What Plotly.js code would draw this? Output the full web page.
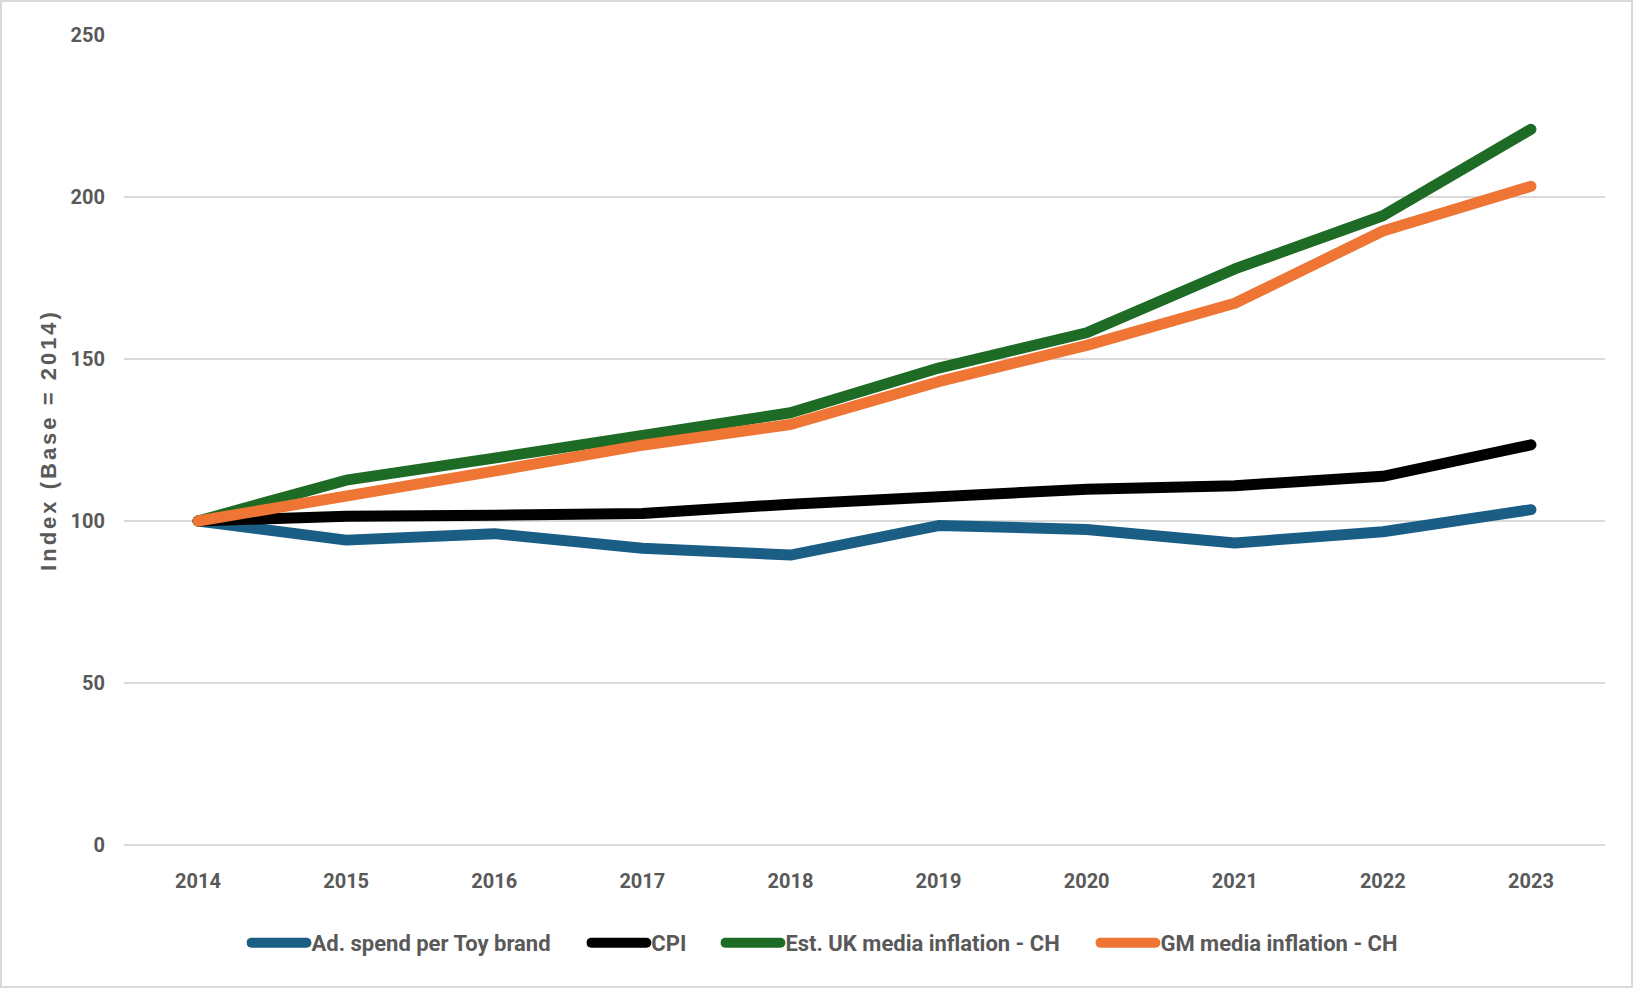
<!DOCTYPE html>
<html>
<head>
<meta charset="utf-8">
<script src="https://cdn.plot.ly/plotly-3.0.1.min.js"></script>
<style>
  html, body { margin: 0; padding: 0; background: #fff; }
  #frame { width: 1629px; height: 984px; border: 2px solid #d9d9d9; }
  #chart { width: 1629px; height: 984px; }
  #chart .ytitle { letter-spacing: 3px; }
  #chart .scatterlayer .js-line { stroke-linecap: round; stroke-linejoin: round; }
  #chart .legendlines path { stroke-linecap: round; }
</style>
</head>
<body>
<div id="frame"><div id="chart"></div></div>
<script>
const years = ["2014","2015","2016","2017","2018","2019","2020","2021","2022","2023"];
const adSpend = [100, 94.1, 96.1, 91.6, 89.5, 98.6, 97.4, 93.2, 96.7, 103.5];
const cpi = [100, 101.5, 101.8, 102.3, 105.2, 107.8, 109.8, 110.9, 113.8, 123.5];
const ukMedia = [100, 112.6, 119.4, 126.8, 133.4, 147.2, 158.1, 177.8, 194.2, 220.9];
const gmMedia = [100, 107.5, 115.4, 123.4, 129.8, 143.0, 154.2, 167.2, 189.5, 203.3];
const seriesNames = ["Ad. spend per Toy brand", "CPI", "Est. UK media inflation - CH", "GM media inflation - CH"];
const yTicks = [0, 50, 100, 150, 200, 250];

const colors = ["#1b5e85", "#000000", "#1d6b24", "#ee7534"];
const allSeries = [adSpend, cpi, ukMedia, gmMedia];
const legendIds = ["legend", "legend2", "legend3", "legend4"];
const legendX = [0.0827, 0.3122, 0.4027, 0.6559];

const traces = allSeries.map((vals, i) => ({
  type: "scatter",
  mode: "lines",
  x: years,
  y: vals,
  name: seriesNames[i],
  legend: legendIds[i],
  line: { color: colors[i], width: 11, shape: "linear" },
  hoverinfo: "x+y+name"
}));

const fontFam = "Roboto, 'Liberation Sans', Arial, sans-serif";
const legendFont = { family: fontFam, size: 22, color: "#595959", weight: "bold" };

const layout = {
  width: 1629,
  height: 984,
  margin: { l: 122, r: 26, t: 33, b: 141 },
  paper_bgcolor: "#ffffff",
  plot_bgcolor: "#ffffff",
  showlegend: true,
  font: { family: fontFam, color: "#595959", size: 20 },
  xaxis: {
    type: "category",
    range: [-0.5, 9.5],
    showgrid: false,
    zeroline: false,
    showline: false,
    ticks: "",
    ticklabelstandoff: 22,
    tickfont: { family: fontFam, size: 20, color: "#595959", weight: "bold" }
  },
  yaxis: {
    range: [0, 250],
    tickvals: yTicks,
    ticktext: yTicks.map(String),
    showgrid: true,
    gridcolor: "#d9d9d9",
    gridwidth: 1.5,
    zeroline: true,
    zerolinecolor: "#d9d9d9",
    zerolinewidth: 1.5,
    showline: false,
    ticks: "",
    ticklabelstandoff: 18,
    tickfont: { family: fontFam, size: 20, color: "#595959", weight: "bold" },
    title: {
      text: "Index (Base = 2014)",
      standoff: 7,
      font: { family: "'Liberation Sans', Arial, sans-serif", size: 22, color: "#595959", weight: "bold" }
    }
  }
};

legendIds.forEach((id, i) => {
  layout[id] = {
    orientation: "h",
    x: legendX[i],
    xanchor: "left",
    y: -0.121,
    yanchor: "middle",
    itemwidth: 55,
    font: legendFont,
    bgcolor: "rgba(0,0,0,0)"
  };
});

Plotly.newPlot("chart", traces, layout, { displayModeBar: false, responsive: false });
</script>
</body>
</html>
